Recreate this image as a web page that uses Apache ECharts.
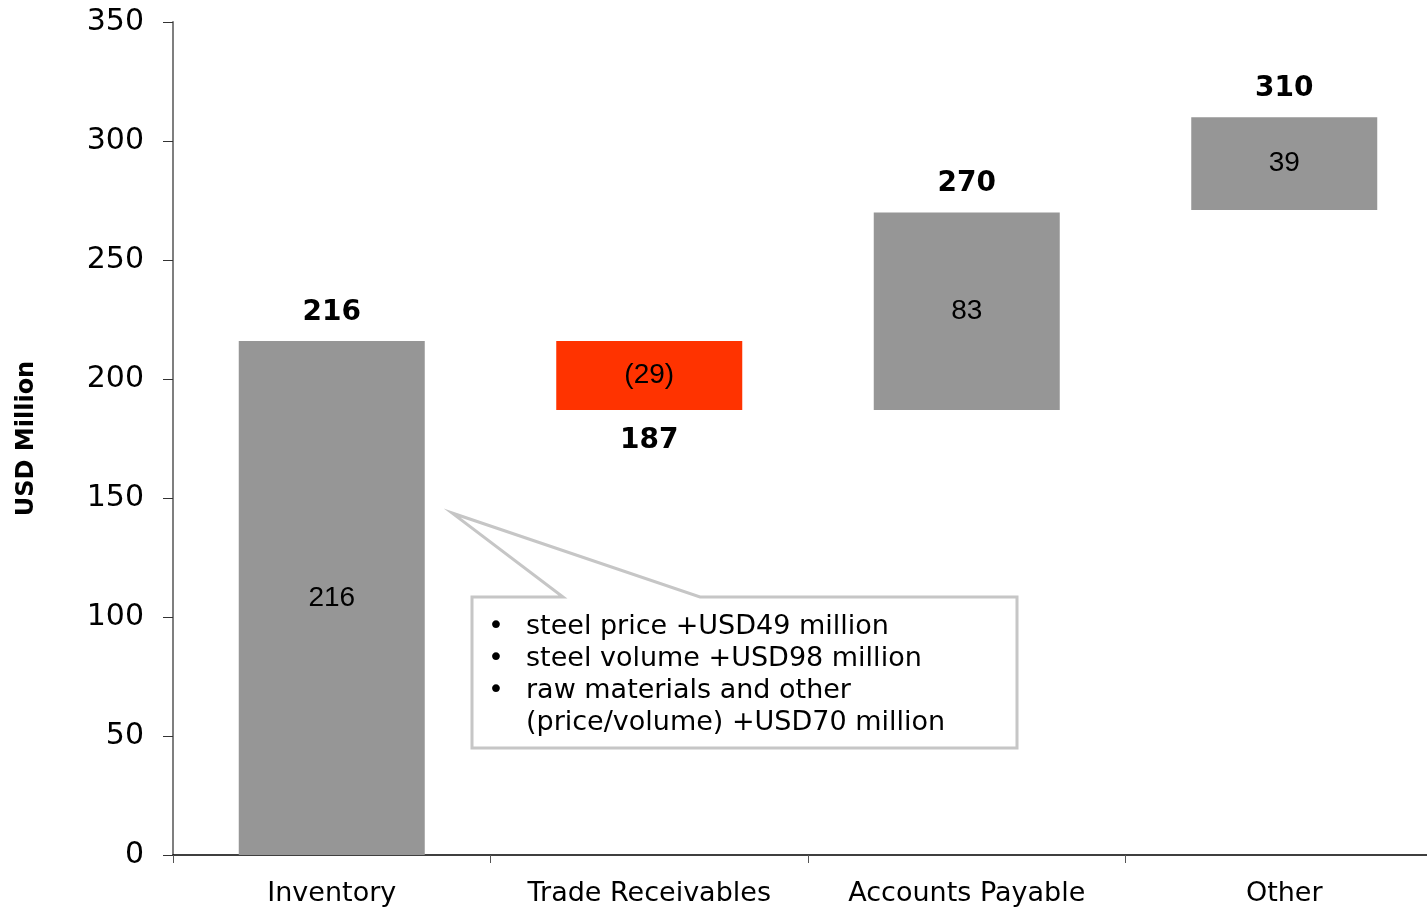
<!DOCTYPE html>
<html>
<head>
<meta charset="utf-8">
<script src="https://cdn.jsdelivr.net/npm/echarts@6/dist/echarts.min.js"></script>
<style>
  html, body { margin: 0; padding: 0; background: #fff; overflow: hidden; }
  /* plot runs a little past the right edge of the window, as in the original */
  #diogram { width: 1443px; height: 910px; }
</style>
</head>
<body>
<div id="diogram"></div>
<script>
let categories = ['Inventory', 'Trade Receivables', 'Accounts Payable', 'Other'];
let changes = [216, -29, 83, 39];
let totals = [216, 187, 270, 310];
let yTicks = [0, 50, 100, 150, 200, 250, 300, 350];
let noteLines = [
    'steel price +USD49 million',
    'steel volume +USD98 million',
    'raw materials and other',
    '(price/volume) +USD70 million'
];

// start of each step = running total before the change
let starts = totals.map((t, i) => t - changes[i]);
let base = totals.map((t, i) => Math.min(t, starts[i]));
let heights = changes.map(c => Math.abs(c));

let diogram = document.getElementById("diogram");
let myDiogram = echarts.init(diogram);

let option = {
    animation: false,
    grid: {
        left: 173,
        right: 0,
        top: 22,
        bottom: 55
    },
    xAxis: {
        type: 'category',
        data: categories,
        axisLine: { lineStyle: { color: '#000', width: 1.5 } },
        axisTick: { show: true, interval: 0, length: 8, lineStyle: { color: '#555' } },
        axisLabel: {
            interval: 0,
            color: '#000',
            fontFamily: 'DejaVu Sans',
            fontSize: 27,
            margin: 25
        }
    },
    yAxis: {
        type: 'value',
        min: yTicks[0],
        max: yTicks[yTicks.length - 1],
        interval: 50,
        name: 'USD Million',
        nameLocation: 'middle',
        nameGap: 134,
        nameTextStyle: {
            color: '#000',
            fontFamily: 'DejaVu Sans',
            fontWeight: 'bold',
            fontSize: 24
        },
        axisLine: { show: true, lineStyle: { color: '#7f7f7f', width: 2 } },
        axisTick: { show: true, length: 10, lineStyle: { color: '#333' } },
        splitLine: { show: false },
        axisLabel: {
            color: '#000',
            fontFamily: 'DejaVu Sans',
            fontSize: 30,
            margin: 29
        }
    },
    series: [
        {
            name: 'base',
            type: 'bar',
            stack: 'wf',
            barWidth: 186,
            itemStyle: { color: 'transparent' },
            data: base,
            label: {
                show: true,
                position: 'insideTop',
                distance: 17,
                color: '#000',
                fontFamily: 'DejaVu Sans',
                fontWeight: 'bold',
                fontSize: 28,
                formatter: p => changes[p.dataIndex] < 0 ? String(totals[p.dataIndex]) : ''
            },
            silent: true
        },
        {
            name: 'change',
            type: 'bar',
            stack: 'wf',
            barWidth: 186,
            data: heights.map((h, i) => ({
                value: h,
                itemStyle: { color: changes[i] < 0 ? '#ff3300' : '#969696' }
            })),
            label: {
                show: true,
                position: 'inside',
                color: '#000',
                fontFamily: 'Liberation Sans',
                fontSize: 28,
                formatter: p => {
                    let c = changes[p.dataIndex];
                    return c < 0 ? '(' + Math.abs(c) + ')' : String(c);
                }
            }
        },
        {
            name: 'total',
            type: 'scatter',
            symbolSize: 1,
            itemStyle: { color: 'transparent', opacity: 1 },
            data: totals.map((t, i) => changes[i] < 0 ? null : t),
            label: {
                show: true,
                position: 'top',
                distance: 14,
                color: '#000',
                opacity: 1,
                fontFamily: 'DejaVu Sans',
                fontWeight: 'bold',
                fontSize: 28
            },
            silent: true
        }
    ],
    graphic: [
        {
            type: 'polygon',
            shape: {
                points: [
                    [472, 597], [563, 597], [452, 513], [700, 597],
                    [1017, 597], [1017, 748], [472, 748]
                ]
            },
            style: { fill: '#fff', stroke: '#c6c6c6', lineWidth: 3 },
            z: 10
        },
        {
            type: 'text',
            left: 488,
            top: 611,
            style: {
                text: '•\n•\n•',
                fill: '#000',
                fontFamily: 'DejaVu Sans',
                fontSize: 27,
                lineHeight: 32
            },
            z: 11
        },
        {
            type: 'text',
            left: 526,
            top: 611,
            style: {
                text: noteLines.join('\n'),
                fill: '#000',
                fontFamily: 'DejaVu Sans',
                fontSize: 27,
                lineHeight: 32
            },
            z: 11
        }
    ]
};

myDiogram.setOption(option);
</script>
</body>
</html>
